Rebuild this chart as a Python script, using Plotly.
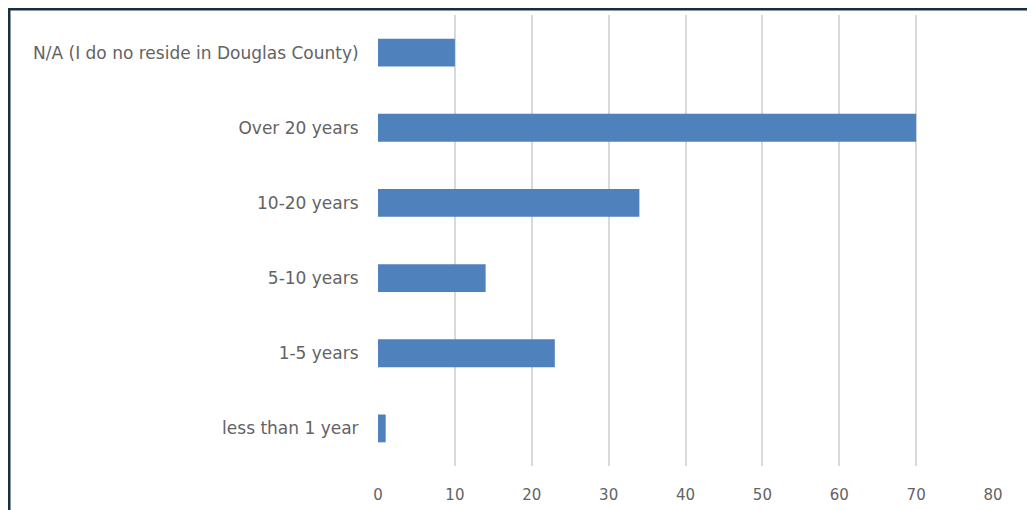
import plotly.graph_objects as go

categories = ["less than 1 year", "1-5 years", "5-10 years", "10-20 years",
              "Over 20 years", "N/A (I do no reside in Douglas County)"]
values = [1, 23, 14, 34, 70, 10]
x_ticks = [0, 10, 20, 30, 40, 50, 60, 70, 80]

# page offset of the plotly div (default body margin of the html page)
OFF = 8
W, H = 1035, 510 - OFF
ml, mr = 378 - OFF, 42 + OFF
mt, mb = 15 - OFF, 44
pw = W - ml - mr
ph = H - mt - mb

fig = go.Figure(go.Bar(
    y=categories, x=values, orientation="h",
    marker=dict(color="#4f81bd", line=dict(width=0)),
    width=0.37,
))

def px_x(p):
    return (p - ml) / pw

def px_y(p):
    return (H - mb - p) / ph

font_fam = "DejaVu Sans, sans-serif"

fig.update_layout(
    width=W, height=H, autosize=False,
    margin=dict(l=ml, r=mr, t=mt, b=mb, pad=0),
    paper_bgcolor="white", plot_bgcolor="white",
    showlegend=False,
    font=dict(family=font_fam, size=17, color="#636363"),
    xaxis=dict(range=[0, 80], tickvals=x_ticks, showgrid=True,
               gridcolor="#d9d9d9", gridwidth=2, zeroline=False,
               showline=False, ticks="outside", ticklen=15,
               tickcolor="rgba(0,0,0,0)",
               tickfont=dict(size=15, color="#636363"),
               fixedrange=True),
    yaxis=dict(categoryorder="array", categoryarray=categories,
               range=[-0.5, 5.5], showgrid=False, zeroline=False,
               showline=False, ticks="outside", ticklen=15, tickcolor="rgba(0,0,0,0)",
               tickfont=dict(size=17, color="#636363"), fixedrange=True),
    shapes=[
        dict(type="line", xref="paper", yref="paper",
             x0=px_x(0), x1=px_x(W + 5), y0=px_y(1), y1=px_y(1),
             line=dict(color="#17303f", width=3)),
        dict(type="line", xref="paper", yref="paper",
             x0=px_x(1), x1=px_x(1), y0=px_y(0), y1=px_y(H + 5),
             line=dict(color="#17303f", width=3)),
    ],
)

fig.write_html("out.html", config={"displayModeBar": False})
